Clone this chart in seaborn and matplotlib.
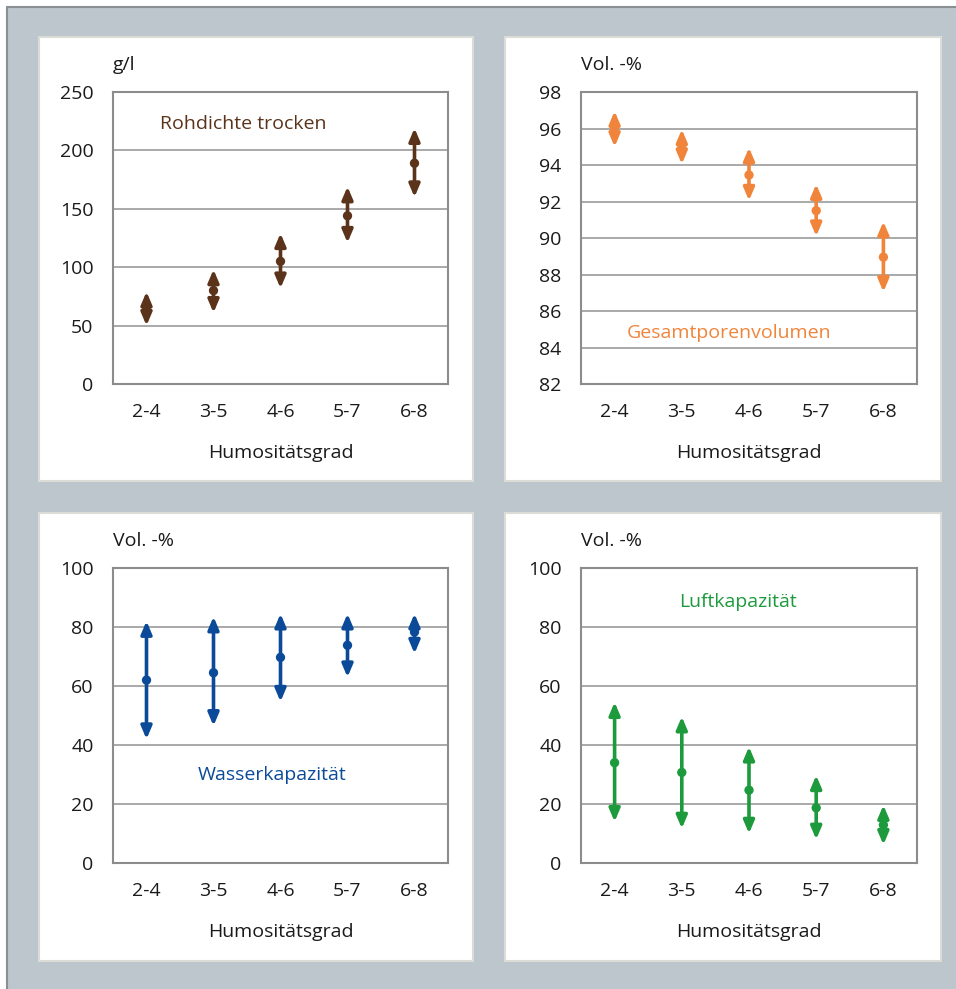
import matplotlib
matplotlib.use("Agg")
import matplotlib.pyplot as plt
from matplotlib.patches import Rectangle
import pandas as pd
import seaborn as sns

# data
categories = ["2-4", "3-5", "4-6", "5-7", "6-8"]

rohdichte_mean = [66, 80, 105, 144, 189]
rohdichte_min = [50, 61, 82, 121, 160]
rohdichte_max = [79, 98, 129, 169, 219]

gpv_mean = [96.05, 94.95, 93.45, 91.5, 88.95]
gpv_min = [95.0, 94.05, 92.05, 90.1, 87.05]
gpv_max = [96.95, 95.95, 94.95, 92.95, 90.9]

wk_mean = [62, 64.5, 69.7, 73.8, 78.3]
wk_min = [42, 46.5, 54.7, 63, 71]
wk_max = [82, 83.5, 84.5, 84.5, 84.5]

lk_mean = [34, 30.7, 24.7, 18.7, 12.9]
lk_min = [14, 11.7, 10, 8, 6.2]
lk_max = [54.5, 49.6, 39.4, 29.7, 19.6]

sns.set_style("white")
plt.rcParams['font.family'] = ['Open Sans', 'DejaVu Sans']
FS = 14

W, H = 956, 989
fig = plt.figure(figsize=(W / 100, H / 100), dpi=100)
fig.patch.set_facecolor("white")

# gray background frame
fig.add_artist(Rectangle((7 / W, 0), 1, 1 - 7 / H, transform=fig.transFigure,
                         facecolor="#bcc6cc", edgecolor="none", zorder=0))
fig.add_artist(plt.Line2D([7 / W, 7 / W], [0, 1 - 7 / H], transform=fig.transFigure,
                          color="#8a8f93", lw=1.5, zorder=1))
fig.add_artist(plt.Line2D([7 / W, 1], [1 - 7 / H, 1 - 7 / H], transform=fig.transFigure,
                          color="#8a8f93", lw=1.5, zorder=1))


def px_box(l, t, r, b):
    return [l / W, 1 - b / H, (r - l) / W, (b - t) / H]


panels = [
    # white card, axes box, data, style
    dict(card=(39, 37, 473, 481), ax=(113, 92, 448, 384),
         mean=rohdichte_mean, lo=rohdichte_min, hi=rohdichte_max,
         color="#5b331a", ylim=(0, 250), step=50, unit="g/l",
         label="Rohdichte trocken", lx=0.2, ly=223),
    dict(card=(505, 37, 941, 481), ax=(581, 92, 917, 384),
         mean=gpv_mean, lo=gpv_min, hi=gpv_max,
         color="#f0843a", ylim=(82, 98), step=2, unit="Vol. -%",
         label="Gesamtporenvolumen", lx=0.18, ly=84.8),
    dict(card=(39, 513, 473, 961), ax=(113, 568, 448, 863),
         mean=wk_mean, lo=wk_min, hi=wk_max,
         color="#0a4a98", ylim=(0, 100), step=20, unit="Vol. -%",
         label="Wasserkapazität", lx=0.77, ly=29.8),
    dict(card=(505, 513, 941, 961), ax=(581, 568, 917, 863),
         mean=lk_mean, lo=lk_min, hi=lk_max,
         color="#1c9a3c", ylim=(0, 100), step=20, unit="Vol. -%",
         label="Luftkapazität", lx=0.96, ly=88.5),
]

for p in panels:
    l, t, r, b = p["card"]
    fig.add_artist(Rectangle((l / W, 1 - b / H), (r - l) / W, (b - t) / H,
                             transform=fig.transFigure, facecolor="white",
                             edgecolor="#dcdcd6", lw=1.5, zorder=1))
    ax = fig.add_axes(px_box(*p["ax"]))
    ax.set_zorder(2)

    df = pd.DataFrame({"grad": categories, "mean": p["mean"]})
    # range arrows from min to max
    for i, cat in enumerate(categories):
        ax.annotate("", xy=(i, p["hi"][i]), xytext=(i, p["lo"][i]),
                    arrowprops=dict(arrowstyle="<|-|>,head_length=0.75,head_width=0.32",
                                    color=p["color"], lw=2.6, shrinkA=0, shrinkB=0,
                                    mutation_scale=10), zorder=3)
    sns.scatterplot(data=df, x="grad", y="mean", color=p["color"], s=45,
                    edgecolor="none", ax=ax, zorder=4)

    lo, hi = p["ylim"]
    ax.set_ylim(lo, hi)
    ax.set_xlim(-0.5, 4.5)
    ax.set_yticks(range(lo, hi + 1, p["step"]))
    ax.yaxis.grid(True, color="#a3a3a3", lw=1.3)
    ax.set_axisbelow(True)
    for s in ax.spines.values():
        s.set_color("#8c8c8c")
        s.set_linewidth(1.5)
    ax.tick_params(axis="both", length=0, labelsize=FS, colors="#1a1a1a")
    ax.tick_params(axis="x", pad=14)
    ax.tick_params(axis="y", pad=14)
    ax.set_xlabel("Humositätsgrad", fontsize=FS, color="#1a1a1a", labelpad=16)
    ax.set_ylabel("")
    ax.text(0, 1.06, p["unit"], transform=ax.transAxes, fontsize=FS,
            color="#1a1a1a", ha="left", va="bottom")
    ax.text(p["lx"], p["ly"], p["label"], fontsize=FS, color=p["color"],
            ha="left", va="center")

fig.savefig("out.png", dpi=100)
